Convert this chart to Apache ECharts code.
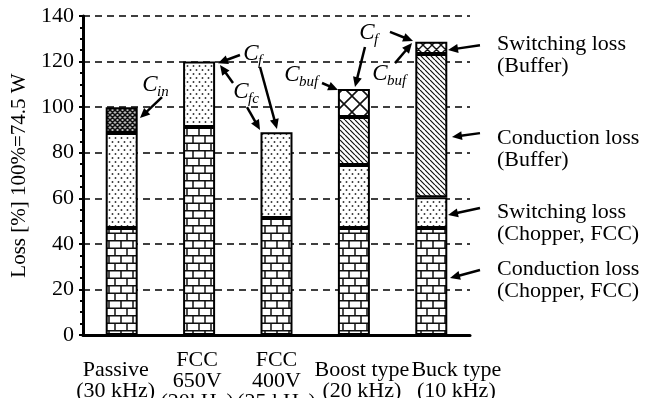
<!DOCTYPE html>
<html>
<head>
<meta charset="utf-8">
<script src="https://cdn.jsdelivr.net/npm/echarts@6/dist/echarts.min.js"></script>
<style>html,body{margin:0;padding:0;background:#fff}#c{width:651px;height:398px}</style>
</head>
<body>
<div id="c"></div>
<script>
// ---- data ----
var categories = ['Passive\n(30 kHz)', 'FCC\n650V\n(20kHz)', 'FCC\n400V\n(25 kHz)', 'Boost type\n(20 kHz)', 'Buck type\n(10 kHz)'];
var condChopper = [47, 91.3, 51.3, 47, 47];
var swChopper = [41.6, 28.7, 37.7, 27.6, 13.5];
var cinLoss = [11.4, '-', '-', '-', '-'];
var condBuffer = ['-', '-', '-', 21.1, 62.8];
var swBuffer = ['-', '-', '-', 12.3, 5.4];
var yTicks = [0, 20, 40, 60, 80, 100, 120, 140];
// horizontal offset (px) of each category label, as placed in the original
var labelShift = [-6, -2, 0, 8, 25];

// annotation labels (C + subscript) at data coords [categoryIndex, value]
var capLabels = [
  {sub: 'in', at: [0.366, 109.7]},
  {sub: 'f', at: [1.67, 123.3]},
  {sub: 'fc', at: [1.541, 106.6]},
  {sub: 'buf', at: [2.20, 114.1]},
  {sub: 'f', at: [3.169, 132.5]},
  {sub: 'buf', at: [3.337, 114.5]}
];
// arrows [from, to] in data coords
var arrows = [
  [[0.521, 104.4], [0.236, 95.2]],
  [[1.528, 122.9], [1.244, 119.3]],
  [[1.787, 117.6], [2.006, 90.4]],
  [[1.438, 110.6], [1.270, 118.5]],
  [[1.619, 100.0], [1.787, 90.0]],
  [[2.588, 110.6], [2.795, 107.5]],
  [[3.143, 126.4], [3.014, 108.8]],
  [[3.466, 133.0], [3.764, 129.0]],
  [[3.531, 119.3], [3.751, 128.1]],
  [[4.629, 127.2], [4.216, 125.1]],
  [[4.629, 88.6], [4.267, 86.9]],
  [[4.629, 55.7], [4.216, 52.7]],
  [[4.629, 28.5], [4.242, 25.0]]
];
var legendTexts = ['Switching loss\n(Buffer)', 'Conduction loss\n(Buffer)', 'Switching loss\n(Chopper, FCC)', 'Conduction loss\n(Chopper, FCC)'];
var legendPos = [[4.849, 122.6], [4.849, 81.6], [4.849, 49.1], [4.849, 24.1]];

// ---- patterns ----
function mk(w, h, draw) {
  var c = document.createElement('canvas');
  c.width = w; c.height = h;
  var g = c.getContext('2d');
  g.fillStyle = '#fff'; g.fillRect(0, 0, w, h);
  draw(g, w, h);
  return {image: c, repeat: 'repeat'};
}
var brick = mk(12, 15, function (g) {
  g.strokeStyle = '#111'; g.lineWidth = 1.5;
  g.beginPath();
  g.moveTo(0, 0.75); g.lineTo(12, 0.75);
  g.moveTo(0, 8.25); g.lineTo(12, 8.25);
  g.moveTo(1, 0); g.lineTo(1, 7.5);
  g.moveTo(7, 7.5); g.lineTo(7, 15);
  g.stroke();
});
var dots = mk(6, 8, function (g) {
  g.fillStyle = '#333';
  g.beginPath(); g.arc(1.5, 2, 0.95, 0, Math.PI * 2); g.fill();
  g.beginPath(); g.arc(4.5, 6, 0.95, 0, Math.PI * 2); g.fill();
});
function hatch(s, lw, back, fwd, bg) {
  return mk(s, s, function (g, w, h) {
    if (bg) { g.fillStyle = bg; g.fillRect(0, 0, w, h); }
    g.strokeStyle = '#111'; g.lineWidth = lw;
    g.beginPath();
    for (var k = -1; k <= 1; k++) {
      if (back) { g.moveTo(k * s, 0); g.lineTo(k * s + s, s); }
      if (fwd) { g.moveTo(k * s, s); g.lineTo(k * s + s, 0); }
    }
    g.stroke();
  });
}
var diag = hatch(5, 1.2, true, false);
var bigX = hatch(16, 1.6, true, true);
var smallX = hatch(9, 1.4, true, true);
var cinX = hatch(5, 1.5, true, true, '#bbb');

var FONT = 'Liberation Serif';
var border = {borderColor: '#000', borderWidth: 2};
function st(color) { return Object.assign({color: color}, border); }

// rich styles for shifted category labels
var rich = {};
labelShift.forEach(function (s, i) {
  rich['s' + i] = {fontFamily: FONT, fontSize: 22, lineHeight: 21, color: '#000',
    padding: s >= 0 ? [0, 0, 0, 2 * s] : [0, -2 * s, 0, 0]};
});

var chart = echarts.init(document.getElementById('c'), null, {renderer: 'canvas'});
var swBufData = swBuffer.map(function (v, i) {
  if (v === '-') return v;
  return {value: v, itemStyle: {color: i === 3 ? bigX : smallX}};
});
chart.setOption({
  animation: false,
  backgroundColor: '#fff',
  grid: {left: 83, right: 181, top: 16, bottom: 63, containLabel: false, outerBoundsMode: 'none'},
  xAxis: {
    type: 'category', data: categories,
    axisLine: {lineStyle: {color: '#000', width: 3}},
    axisTick: {show: false},
    axisLabel: {
      interval: 0, color: '#000', fontFamily: FONT, fontSize: 22, lineHeight: 21,
      verticalAlign: 'middle', margin: 46, hideOverlap: false, rich: rich,
      formatter: function (v, i) {
        return v.split('\n').map(function (line) { return '{s' + i + '|' + line + '}'; }).join('\n');
      }
    }
  },
  yAxis: {
    type: 'value', min: yTicks[0], max: yTicks[yTicks.length - 1], interval: 20,
    name: 'Loss [%] 100%=74.5 W', nameLocation: 'middle', nameGap: 45,
    nameTextStyle: {color: '#000', fontFamily: FONT, fontSize: 21},
    axisLine: {show: true, lineStyle: {color: '#000', width: 3}},
    axisTick: {show: true, length: 4, lineStyle: {color: '#000', width: 2}},
    minorTick: {show: true, splitNumber: 4, length: 3, lineStyle: {color: '#000', width: 2}},
    axisLabel: {color: '#000', fontFamily: FONT, fontSize: 22, margin: 9},
    splitLine: {show: true, lineStyle: {color: '#000', width: 1.5, type: [7, 5]}}
  },
  series: [
    {name: 'Conduction loss (Chopper, FCC)', type: 'bar', stack: 'a', barWidth: 32, data: condChopper, itemStyle: st(brick)},
    {name: 'Switching loss (Chopper, FCC)', type: 'bar', stack: 'a', data: swChopper, itemStyle: st(dots)},
    {name: 'Cin', type: 'bar', stack: 'a', data: cinLoss, itemStyle: st(cinX)},
    {name: 'Conduction loss (Buffer)', type: 'bar', stack: 'a', data: condBuffer, itemStyle: st(diag)},
    {name: 'Switching loss (Buffer)', type: 'bar', stack: 'a', data: swBufData, itemStyle: st(bigX)}
  ]
});

// ---- annotations placed through the axes ----
function px(p) {
  var a = chart.convertToPixel({xAxisIndex: 0, yAxisIndex: 0}, [0, p[1]]);
  var b = chart.convertToPixel({xAxisIndex: 0, yAxisIndex: 0}, [1, p[1]]);
  return [a[0] + p[0] * (b[0] - a[0]), a[1]];
}
var gr = [];
capLabels.forEach(function (l) {
  var p = px(l.at);
  gr.push({type: 'text', x: p[0], y: p[1], z: 100, style: {text: 'C', font: 'italic 23px ' + FONT, fill: '#000', align: 'center', verticalAlign: 'middle'}});
  gr.push({type: 'text', x: p[0] + 7, y: p[1] + 7, z: 100, style: {text: l.sub, font: 'italic 15px ' + FONT, fill: '#000', align: 'left', verticalAlign: 'middle'}});
});
arrows.forEach(function (a) {
  var p1 = px(a[0]), p2 = px(a[1]);
  var dx = p2[0] - p1[0], dy = p2[1] - p1[1];
  var L = Math.sqrt(dx * dx + dy * dy), ux = dx / L, uy = dy / L;
  var hl = 10, hw = 4.5;
  var bx = p2[0] - ux * hl, by = p2[1] - uy * hl;
  gr.push({type: 'line', z: 100, shape: {x1: p1[0], y1: p1[1], x2: bx + ux, y2: by + uy}, style: {stroke: '#000', lineWidth: 2.5}});
  gr.push({type: 'polygon', z: 100, shape: {points: [[p2[0], p2[1]], [bx - uy * hw, by + ux * hw], [bx + uy * hw, by - ux * hw]]}, style: {fill: '#000'}});
});
legendTexts.forEach(function (t, i) {
  var p = px(legendPos[i]);
  gr.push({type: 'text', x: p[0], y: p[1], z: 100, style: {text: t, font: '22px ' + FONT, lineHeight: 22, fill: '#000', align: 'left', verticalAlign: 'middle'}});
});
chart.setOption({graphic: gr});
</script>
</body>
</html>
